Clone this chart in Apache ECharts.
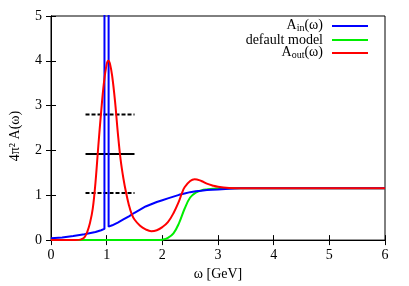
<!DOCTYPE html>
<html><head><meta charset="utf-8">
<script src="https://cdn.jsdelivr.net/npm/echarts@6/dist/echarts.min.js"></script>
<style>html,body{margin:0;padding:0;background:#fff}#c{width:409px;height:286px}</style>
</head><body><div id="c"></div>
<script>
const xTicks = [0, 1, 2, 3, 4, 5, 6];
const yTicks = [0, 1, 2, 3, 4, 5];
const ainX = [0, 0.2, 0.4, 0.6, 0.8, 0.9, 0.96, 0.965, 0.975, 1.03, 1.035, 1.05, 1.1, 1.2, 1.3, 1.4, 1.5, 1.6, 1.7, 1.8, 1.9, 2.0, 2.1, 2.2, 2.3, 2.4, 2.5, 2.6, 2.7, 2.8, 3.0, 3.2, 3.4, 4.0, 5.0, 6.0];
const ainY = [0.04, 0.06, 0.09, 0.13, 0.18, 0.22, 0.25, 0.26, 100, 100, 0.3, 0.3, 0.33, 0.39, 0.46, 0.53, 0.61, 0.68, 0.75, 0.8, 0.85, 0.89, 0.93, 0.97, 1.01, 1.04, 1.07, 1.09, 1.1, 1.12, 1.13, 1.145, 1.155, 1.155, 1.155, 1.155];
const modelX = [0, 1.0, 1.9, 2.0, 2.1, 2.2, 2.3, 2.4, 2.5, 2.6, 2.7, 2.8, 3.0, 3.3, 4.0, 5.0, 6.0];
const modelY = [0, 0, 0, 0.01, 0.05, 0.15, 0.38, 0.7, 0.95, 1.06, 1.11, 1.13, 1.15, 1.155, 1.155, 1.155, 1.155];
const aoutX = [0, 0.3, 0.5, 0.55, 0.6, 0.65, 0.7, 0.75, 0.8, 0.85, 0.9, 0.95, 1.0, 1.03, 1.06, 1.1, 1.15, 1.2, 1.25, 1.3, 1.35, 1.4, 1.45, 1.5, 1.6, 1.7, 1.8, 1.9, 2.0, 2.1, 2.2, 2.3, 2.35, 2.4, 2.5, 2.58, 2.7, 2.8, 2.9, 3.0, 3.2, 3.5, 4.0, 5.0, 6.0];
const aoutY = [0, 0, 0.005, 0.02, 0.06, 0.18, 0.38, 0.7, 1.3, 2.1, 2.85, 3.5, 3.92, 4.0, 3.93, 3.65, 3.1, 2.4, 1.8, 1.38, 1.05, 0.78, 0.58, 0.46, 0.32, 0.24, 0.2, 0.22, 0.29, 0.4, 0.6, 0.87, 1.04, 1.18, 1.32, 1.36, 1.32, 1.26, 1.22, 1.19, 1.165, 1.155, 1.155, 1.155, 1.155];
const barX = [0.62, 1.5];
const barUpper = 2.8;
const barMid = 1.92;
const barLower = 1.05;

const FONT = '"Liberation Serif", "DejaVu Serif", serif';
function pairs(xs, ys) { return xs.map((x, i) => [x, ys[i]]); }
function hline(y) { return barX.map(x => [x, y]); }

const chart = echarts.init(document.getElementById('c'), null, {renderer: 'canvas'});
const axisCommon = {
  type: 'value', min: 0,
  axisLine: {show: true, lineStyle: {color: '#000', width: 1}},
  axisTick: {show: true, inside: true, length: 5, lineStyle: {color: '#000', width: 1}},
  splitLine: {show: false}
};
const subRich = {
  a: {fontFamily: FONT, fontSize: 14, fill: '#000', lineHeight: 15, verticalAlign: 'top'},
  b: {fontFamily: FONT, fontSize: 10, fill: '#000', lineHeight: 10, padding: [9, 0, 0, 0], verticalAlign: 'bottom'}
};
chart.setOption({
  animation: false,
  backgroundColor: '#fff',
  grid: {left: 51, right: 24, top: 16, bottom: 44, show: true, borderColor: '#000', borderWidth: 1},
  xAxis: [
    Object.assign({}, axisCommon, {max: 6, interval: 1, position: 'bottom',
      name: 'ω [GeV]', nameLocation: 'middle', nameGap: 20,
      nameTextStyle: {fontFamily: FONT, fontSize: 14, color: '#000'},
      axisLabel: {fontFamily: FONT, fontSize: 14, color: '#000', margin: 8}}),
    Object.assign({}, axisCommon, {max: 6, interval: 1, position: 'top', axisLabel: {show: false}})
  ],
  yAxis: [
    Object.assign({}, axisCommon, {max: 5, interval: 1, position: 'left',
      axisLabel: {fontFamily: FONT, fontSize: 14, color: '#000', margin: 9}}),
    Object.assign({}, axisCommon, {max: 5, interval: 1, position: 'right', axisLabel: {show: false}})
  ],
  series: [
    {type: 'line', name: 'bar upper', data: hline(barUpper), symbol: 'none', lineStyle: {color: '#000', width: 2, type: [4, 2]}},
    {type: 'line', name: 'bar mid', data: hline(barMid), symbol: 'none', lineStyle: {color: '#000', width: 2}},
    {type: 'line', name: 'bar lower', data: hline(barLower), symbol: 'none', lineStyle: {color: '#000', width: 2, type: [4, 2]}},
    {type: 'line', name: 'default model', data: pairs(modelX, modelY), symbol: 'none', smooth: 0.4, clip: true, lineStyle: {color: '#00ee00', width: 2}},
    {type: 'line', name: 'A_in', data: pairs(ainX, ainY), symbol: 'none', clip: true, lineStyle: {color: '#0000ff', width: 2}},
    {type: 'line', name: 'A_out', data: pairs(aoutX, aoutY), symbol: 'none', smooth: 0.4, clip: true, lineStyle: {color: '#ff0000', width: 2}}
  ],
  graphic: [
    {type: 'text', x: 15, y: 136, rotation: Math.PI / 2, style: {text: '4π² A(ω)', font: '14px ' + FONT, fill: '#000', align: 'center', verticalAlign: 'middle'}},
    {type: 'text', x: 323, y: 26, style: {text: '{a|A}{b|in}{a|(ω)}', align: 'right', verticalAlign: 'middle', fill: '#000', rich: subRich}},
    {type: 'text', x: 323, y: 40, style: {text: 'default model', font: '14px ' + FONT, fill: '#000', align: 'right', verticalAlign: 'middle'}},
    {type: 'text', x: 323, y: 53, style: {text: '{a|A}{b|out}{a|(ω)}', align: 'right', verticalAlign: 'middle', fill: '#000', rich: subRich}},
    {type: 'line', shape: {x1: 332, y1: 26, x2: 368, y2: 26}, style: {stroke: '#0000ff', lineWidth: 2}},
    {type: 'line', shape: {x1: 332, y1: 40, x2: 368, y2: 40}, style: {stroke: '#00ee00', lineWidth: 2}},
    {type: 'line', shape: {x1: 332, y1: 53, x2: 368, y2: 53}, style: {stroke: '#ff0000', lineWidth: 2}}
  ]
});
</script></body></html>
